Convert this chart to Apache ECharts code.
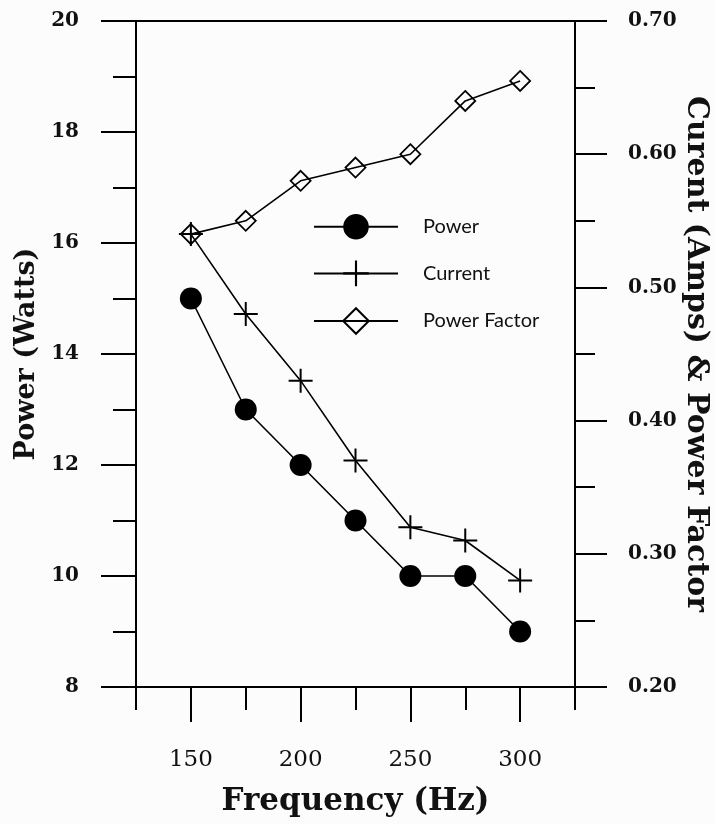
<!DOCTYPE html>
<html>
<head>
<meta charset="utf-8">
<script src="https://cdn.jsdelivr.net/npm/echarts@6/dist/echarts.min.js"></script>
<style>
html,body{margin:0;padding:0;background:#fcfcfc;}
#chart{width:714px;height:824px;}
</style>
</head>
<body>
<div id="chart"></div>
<script>
const frequency = [150, 175, 200, 225, 250, 275, 300];
const power = [15.0, 13.0, 12.0, 11.0, 10.0, 10.0, 9.0];
const current = [0.54, 0.48, 0.43, 0.37, 0.32, 0.31, 0.28];
const powerFactor = [0.54, 0.55, 0.58, 0.59, 0.60, 0.64, 0.655];
const xTickLabels = [150, 200, 250, 300];

const pair = (xs, ys) => xs.map((x, i) => [x, ys[i]]);
const serif = '"DejaVu Serif", "Liberation Serif", serif';
const black = '#000';
const plusPath = 'path://M11,0 L13,0 L13,24 L11,24 Z M0,11 L24,11 L24,13 L0,13 Z';

const chart = echarts.init(document.getElementById('chart'), null, {renderer: 'canvas'});
chart.setOption({
  animation: false,
  backgroundColor: '#fcfcfc',
  grid: {left: 136, right: 139, top: 21, bottom: 137, outerBoundsMode: 'none', containLabel: false,
         show: true, borderColor: black, borderWidth: 2, backgroundColor: 'transparent'},
  legend: {
    orient: 'vertical', left: 308, top: 209,
    itemWidth: 84, itemHeight: 32, itemGap: 21,
    data: ['Power', 'Current', 'Power Factor'],
    textStyle: {fontFamily: '"Lato", "Noto Sans", sans-serif', fontSize: 20, color: '#111', padding: [0, 0, 0, 20]}
  },
  xAxis: [
    {
      type: 'value', min: 125, max: 325, interval: 25,
      axisLine: {show: true, lineStyle: {color: black, width: 2}},
      axisTick: {show: true, length: 23, lineStyle: {color: black, width: 2}},
      axisLabel: {show: false},
      splitLine: {show: false}
    },
    {
      type: 'value', min: 125, max: 325, interval: 25, position: 'bottom',
      axisLine: {show: false},
      axisTick: {show: true, length: 35, customValues: xTickLabels, lineStyle: {color: black, width: 2}},
      axisLabel: {show: true, customValues: xTickLabels, margin: 62, fontFamily: serif, fontSize: 23, color: '#111'},
      splitLine: {show: false},
      name: 'Frequency (Hz)', nameLocation: 'middle', nameGap: 99,
      nameTextStyle: {fontFamily: serif, fontWeight: 'bold', fontSize: 31, color: '#111'}
    }
  ],
  yAxis: [
    {
      type: 'value', min: 8, max: 20, interval: 2, position: 'left',
      axisLine: {show: true, lineStyle: {color: black, width: 2}},
      axisTick: {show: true, length: 35, lineStyle: {color: black, width: 2}},
      minorTick: {show: true, splitNumber: 2, length: 23, lineStyle: {color: black, width: 2}},
      axisLabel: {margin: 57, fontFamily: serif, fontWeight: 'bold', fontSize: 20, color: '#111'},
      splitLine: {show: false},
      name: 'Power (Watts)', nameLocation: 'middle', nameRotate: 90, nameGap: 91,
      nameTextStyle: {fontFamily: serif, fontWeight: 'bold', fontSize: 27, color: '#111'}
    },
    {
      type: 'value', min: 0.2, max: 0.7, interval: 0.1, position: 'right',
      axisLine: {show: true, lineStyle: {color: black, width: 2}},
      axisTick: {show: true, length: 32, lineStyle: {color: black, width: 2}},
      minorTick: {show: true, splitNumber: 2, length: 20, lineStyle: {color: black, width: 2}},
      axisLabel: {margin: 53, fontFamily: serif, fontWeight: 'bold', fontSize: 20, color: '#111', formatter: v => v.toFixed(2)},
      splitLine: {show: false},
      name: 'Curent (Amps) & Power Factor', nameLocation: 'middle', nameRotate: -90, nameGap: 106,
      nameMoveOverlap: false,
      nameTextStyle: {fontFamily: serif, fontWeight: 'bold', fontSize: 30, color: '#111'}
    }
  ],
  series: [
    {
      name: 'Power Factor', type: 'line', xAxisIndex: 0, yAxisIndex: 1,
      data: pair(frequency, powerFactor),
      symbol: 'diamond', symbolSize: 20,
      lineStyle: {color: black, width: 1.6},
      itemStyle: {color: 'rgba(0,0,0,0)', borderColor: black, borderWidth: 1.8}
    },
    {
      name: 'Current', type: 'line', xAxisIndex: 0, yAxisIndex: 1,
      data: pair(frequency, current),
      symbol: plusPath, symbolSize: 24,
      lineStyle: {color: black, width: 1.6},
      itemStyle: {color: black}
    },
    {
      name: 'Power', type: 'line', xAxisIndex: 0, yAxisIndex: 0,
      data: pair(frequency, power),
      symbol: 'circle', symbolSize: 22,
      lineStyle: {color: black, width: 1.6},
      itemStyle: {color: black}
    }
  ]
});
</script>
</body>
</html>
